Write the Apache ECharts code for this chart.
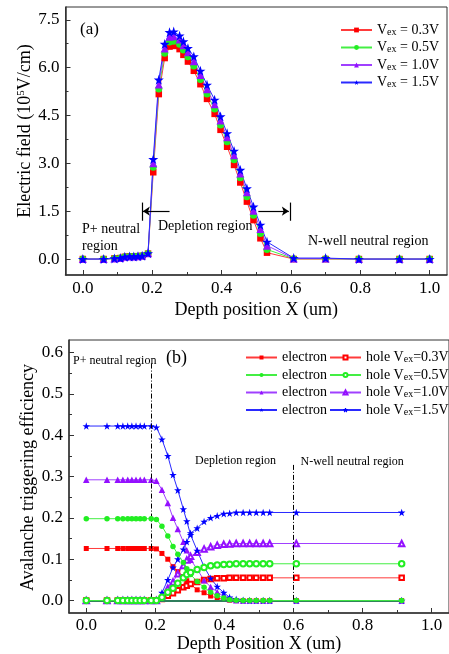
<!DOCTYPE html>
<html><head><meta charset="utf-8">
<script src="https://cdn.jsdelivr.net/npm/echarts@6/dist/echarts.min.js"></script>
<style>html,body{margin:0;padding:0;background:#fff}#c{width:449px;height:654px}</style>
</head><body><div id="c"></div>
<script>
// ---------- (a) Electric field ----------
const xA = [0, 0.06, 0.091, 0.108, 0.121, 0.135, 0.147, 0.159, 0.171, 0.188, 0.203, 0.219, 0.236, 0.25, 0.262, 0.279, 0.29, 0.303, 0.32, 0.339, 0.358, 0.38, 0.397, 0.416, 0.436, 0.454, 0.473, 0.492, 0.512, 0.531, 0.608, 0.70, 0.796, 0.913, 1.0];
const fieldV03 = [0, 0, 0.02, 0.03, 0.07, 0.08, 0.08, 0.09, 0.1, 0.17, 2.72, 5.17, 6.30, 6.66, 6.68, 6.58, 6.40, 6.19, 5.90, 5.48, 5.02, 4.55, 4.05, 3.52, 2.95, 2.40, 1.80, 1.22, 0.65, 0.20, 0, 0, 0, 0, 0];
const fieldV05 = [0, 0, 0.02, 0.03, 0.07, 0.08, 0.08, 0.09, 0.1, 0.17, 2.88, 5.33, 6.45, 6.80, 6.83, 6.73, 6.55, 6.34, 6.05, 5.63, 5.17, 4.70, 4.20, 3.68, 3.11, 2.55, 1.95, 1.37, 0.80, 0.30, 0.01, 0.01, 0, 0, 0];
const fieldV10 = [0, 0, 0.02, 0.03, 0.07, 0.08, 0.08, 0.09, 0.1, 0.18, 3.00, 5.47, 6.60, 6.97, 6.98, 6.88, 6.70, 6.48, 6.20, 5.77, 5.32, 4.85, 4.34, 3.82, 3.25, 2.68, 2.09, 1.51, 0.94, 0.42, 0.02, 0.02, 0, 0, 0];
const fieldV15 = [0, 0, 0.02, 0.03, 0.07, 0.08, 0.08, 0.09, 0.1, 0.18, 3.13, 5.62, 6.74, 7.11, 7.13, 7.00, 6.82, 6.61, 6.35, 5.90, 5.46, 4.99, 4.47, 3.94, 3.39, 2.79, 2.21, 1.64, 1.07, 0.54, 0.03, 0.03, 0, 0, 0];
const legendA = ['Vex = 0.3V', 'Vex = 0.5V', 'Vex = 1.0V', 'Vex = 1.5V'];

// ---------- (b) Avalanche triggering efficiency ----------
const xB = [0, 0.06, 0.091, 0.106, 0.12, 0.132, 0.144, 0.156, 0.168, 0.188, 0.203, 0.219, 0.236, 0.251, 0.265, 0.281, 0.291, 0.302, 0.321, 0.341, 0.36, 0.379, 0.398, 0.415, 0.434, 0.454, 0.473, 0.492, 0.512, 0.531, 0.608, 0.913];
const eleV03 = [0.126, 0.126, 0.126, 0.126, 0.126, 0.126, 0.126, 0.126, 0.126, 0.126, 0.125, 0.114, 0.100, 0.082, 0.070, 0.058, 0.048, 0.040, 0.026, 0.019, 0.011, 0.006, 0.003, 0.001, 0, 0, 0, 0, 0, 0, 0, 0];
const eleV05 = [0.198, 0.198, 0.198, 0.198, 0.198, 0.198, 0.198, 0.198, 0.198, 0.198, 0.196, 0.180, 0.156, 0.131, 0.112, 0.092, 0.077, 0.063, 0.046, 0.032, 0.020, 0.012, 0.006, 0.002, 0.001, 0, 0, 0, 0, 0, 0, 0];
const eleV10 = [0.292, 0.292, 0.292, 0.292, 0.292, 0.292, 0.292, 0.292, 0.292, 0.292, 0.290, 0.268, 0.236, 0.200, 0.173, 0.142, 0.122, 0.099, 0.076, 0.049, 0.033, 0.021, 0.010, 0.004, 0.001, 0, 0, 0, 0, 0, 0, 0];
const eleV15 = [0.422, 0.422, 0.422, 0.422, 0.422, 0.422, 0.422, 0.422, 0.422, 0.422, 0.419, 0.390, 0.350, 0.304, 0.267, 0.221, 0.192, 0.159, 0.121, 0.082, 0.054, 0.034, 0.019, 0.008, 0.003, 0.001, 0, 0, 0, 0, 0, 0];
const holeV03 = [0, 0, 0, 0, 0, 0, 0, 0, 0, 0, 0, 0.004, 0.012, 0.018, 0.025, 0.032, 0.036, 0.040, 0.045, 0.050, 0.052, 0.054, 0.054, 0.055, 0.055, 0.055, 0.055, 0.055, 0.055, 0.055, 0.055, 0.055];
const holeV05 = [0, 0, 0, 0, 0, 0, 0, 0, 0, 0, 0, 0.008, 0.020, 0.030, 0.042, 0.055, 0.063, 0.068, 0.075, 0.080, 0.084, 0.086, 0.087, 0.088, 0.089, 0.089, 0.089, 0.089, 0.089, 0.089, 0.089, 0.089];
const holeV10 = [0, 0, 0, 0, 0, 0, 0, 0, 0, 0, 0, 0.012, 0.030, 0.045, 0.065, 0.085, 0.098, 0.107, 0.117, 0.125, 0.130, 0.134, 0.136, 0.137, 0.138, 0.138, 0.138, 0.138, 0.138, 0.138, 0.138, 0.138];
const holeV15 = [0, 0, 0, 0, 0, 0, 0, 0, 0, 0, 0, 0.019, 0.050, 0.080, 0.100, 0.124, 0.142, 0.163, 0.175, 0.191, 0.200, 0.205, 0.210, 0.211, 0.213, 0.213, 0.213, 0.213, 0.213, 0.213, 0.213, 0.213];
const vexLabels = ['0.3V', '0.5V', '1.0V', '1.5V'];

// ---------- ticks ----------
const xTickMajor = [0, 0.2, 0.4, 0.6, 0.8, 1.0];
const xTickMinor = [0.1, 0.3, 0.5, 0.7, 0.9];
const yTopMajor = [0, 1.5, 3.0, 4.5, 6.0, 7.5];
const yTopMinor = [0.75, 2.25, 3.75, 5.25, 6.75];
const yBotMajor = [0, 0.1, 0.2, 0.3, 0.4, 0.5, 0.6];
const yBotMinor = [0.05, 0.15, 0.25, 0.35, 0.45, 0.55];

const FONT = 'Liberation Serif';
const AX = '#333';
const zip = (xs, ys) => xs.map((x, i) => [x, ys[i]]);
const STAR = 'path://M50,2 L61.8,37.6 L99,37.6 L69,59.6 L80.4,95 L50,73 L19.6,95 L31,59.6 L1,37.6 L38.2,37.6 Z';

function majorAxis(dim, gi, min, max, ticks, margin) {
  return {
    type: 'value', gridIndex: gi, min: min, max: max,
    position: dim === 'x' ? 'bottom' : 'left',
    splitLine: { show: false },
    axisLine: { show: true, onZero: false, lineStyle: { color: AX, width: 1.5 } },
    axisTick: { show: true, inside: true, length: 5, customValues: ticks, lineStyle: { color: AX, width: 1 } },
    axisLabel: { customValues: ticks, formatter: v => Number(v).toFixed(1), fontFamily: FONT, fontSize: 17, color: '#000', margin: margin }
  };
}
function minorAxis(dim, gi, min, max, ticks) {
  return {
    type: 'value', gridIndex: gi, min: min, max: max,
    position: dim === 'x' ? 'bottom' : 'left',
    splitLine: { show: false },
    axisLine: { show: false, onZero: false },
    axisTick: { show: true, inside: true, length: 3, customValues: ticks, lineStyle: { color: AX, width: 1 } },
    axisLabel: { show: false }
  };
}

const colors = {
  red: { m: '#ff0000', l: '#ff3b3b' },
  green: { m: '#22ee22', l: '#44ee44' },
  purple: { m: '#9410ff', l: '#a040ff' },
  blue: { m: '#0000ff', l: '#2a2aff' }
};
const order = ['red', 'green', 'purple', 'blue'];

function lineSeries(name, xi, yi, data, c, symbol, size, z, extra) {
  return Object.assign({
    name: name, type: 'line', xAxisIndex: xi, yAxisIndex: yi, data: data,
    symbol: symbol, symbolSize: size, z: z || 2,
    lineStyle: { color: c.l, width: 1 },
    itemStyle: { color: c.m, borderColor: c.m, borderWidth: symbol.indexOf('empty') === 0 ? 1 : 0 },
    emphasis: { disabled: true }, animation: false
  }, extra || {});
}

const series = [];
// (a)
const fieldData = [fieldV03, fieldV05, fieldV10, fieldV15];
const symA = ['rect', 'circle', 'triangle', STAR];
const sizeA = [6.5, 7, 8, 10];
fieldData.forEach((d, i) => {
  const extra = {};
  if (i === 0) {
    extra.markLine = {
      silent: true, symbol: ['none', 'none'], symbolSize: 7, z: 5, animation: false,
      label: { show: false },
      lineStyle: { color: '#000', width: 1.2, type: 'solid' },
      data: [
        [{ coord: [0.170, 1.77] }, { coord: [0.170, 1.20] }],
        [{ coord: [0.250, 1.50] }, { coord: [0.173, 1.50], symbol: 'arrow' }],
        [{ coord: [0.506, 1.50] }, { coord: [0.594, 1.50], symbol: 'arrow' }],
        [{ coord: [0.597, 1.77] }, { coord: [0.597, 1.20] }]
      ]
    };
  }
  series.push(lineSeries(legendA[i], 0, 0, zip(xA, d), colors[order[i]], symA[i], sizeA[i], 2, extra));
});
// (b)
const eleData = [eleV03, eleV05, eleV10, eleV15];
const holeData = [holeV03, holeV05, holeV10, holeV15];
const symE = ['rect', 'circle', 'triangle', STAR];
const symH = ['emptyRect', 'emptyCircle', 'emptyTriangle', STAR];
const sizeE = [5, 5.5, 6.5, 7.5];
const sizeH = [4.5, 5.5, 5.5, 7.5];
const eNames = vexLabels.map(v => 'e' + v);
const hNames = vexLabels.map(v => 'h' + v);
for (let i = 0; i < 4; i++) {
  const z = order[i] === 'green' ? 4 : 2;
  const extra = {};
  if (i === 1) {
    extra.markLine = {
      silent: true, symbol: ['none', 'none'], z: 4, animation: false,
      label: { show: false },
      lineStyle: { color: '#000', width: 1, type: [5, 2, 1, 2] },
      data: [
        [{ coord: [0.188, 0.573] }, { coord: [0.188, -0.004] }],
        [{ coord: [0.600, 0.328] }, { coord: [0.600, -0.004] }],
        [{ coord: [0, 0], lineStyle: { color: '#2f7d5c', width: 2.2, type: 'solid' } }, { coord: [0.913, 0] }]
      ]
    };
  }
  series.push(lineSeries(eNames[i], 2, 2, zip(xB, eleData[i]), colors[order[i]], symE[i], sizeE[i], z, extra));
  series.push(lineSeries(hNames[i], 2, 2, zip(xB, holeData[i]), colors[order[i]], symH[i], sizeH[i], z));
}

const legendText = { fontFamily: FONT, fontSize: 14, color: '#000', lineHeight: 14,
  rich: { s: { fontFamily: FONT, fontSize: 10, color: '#000', verticalAlign: 'bottom', lineHeight: 14 } } };

const option = {
  backgroundColor: '#fff',
  animation: false,
  grid: [
    { left: 65.5, top: 7, width: 381.5, height: 268, show: true, borderColor: AX, borderWidth: 1 },
    { left: 69, top: 340, width: 383, height: 273, show: true, borderColor: AX, borderWidth: 1 }
  ],
  xAxis: [
    Object.assign(majorAxis('x', 0, -0.05, 1.05, xTickMajor, 5), { name: 'Depth position X (um)', nameLocation: 'middle', nameGap: 26, nameTextStyle: { fontFamily: FONT, fontSize: 18, color: '#000' } }),
    minorAxis('x', 0, -0.05, 1.05, xTickMinor),
    Object.assign(majorAxis('x', 1, -0.05, 1.05, xTickMajor, 4), { name: 'Depth Position X (um)', nameLocation: 'middle', nameGap: 22, nameTextStyle: { fontFamily: FONT, fontSize: 18, color: '#000' } }),
    minorAxis('x', 1, -0.05, 1.05, xTickMinor)
  ],
  yAxis: [
    majorAxis('y', 0, -0.5, 7.9, yTopMajor, 6),
    minorAxis('y', 0, -0.5, 7.9, yTopMinor),
    majorAxis('y', 1, -0.03, 0.63, yBotMajor, 6),
    minorAxis('y', 1, -0.03, 0.63, yBotMinor)
  ],
  legend: [
    { orient: 'vertical', left: 335, top: 18, itemWidth: 31, itemHeight: 6, itemGap: 3.5, data: legendA,
      formatter: n => 'V{s|ex}' + n.slice(3), textStyle: legendText, selectedMode: false },
    { orient: 'vertical', left: 240, top: 345.5, itemWidth: 31, itemHeight: 5, itemGap: 3.5, data: eNames,
      formatter: () => 'electron', textStyle: legendText, selectedMode: false },
    { orient: 'vertical', left: 324, top: 345.5, itemWidth: 31, itemHeight: 5, itemGap: 3.5, data: hNames,
      itemStyle: { borderWidth: 1 },
      formatter: n => 'hole V{s|ex}=' + n.slice(1), textStyle: legendText, selectedMode: false }
  ],
  graphic: [
    { type: 'text', x: 25, y: 131, rotation: Math.PI / 2, style: { text: 'Electric field (10{sup|5}V/cm)', font: '18px "Liberation Serif"', fill: '#000', align: 'center', verticalAlign: 'middle',
      rich: { sup: { font: '11px "Liberation Serif"', fill: '#000', verticalAlign: 'top', lineHeight: 18 } } } },
    { type: 'text', x: 28.5, y: 477.5, rotation: Math.PI / 2, style: { text: 'Avalanche triggering efficiency', font: '18px "Liberation Serif"', fill: '#000', align: 'center', verticalAlign: 'middle' } },
    { type: 'text', x: 80, y: 30, style: { text: '(a)', font: '17px "Liberation Serif"', fill: '#000', verticalAlign: 'middle' } },
    { type: 'text', x: 82, y: 229, style: { text: 'P+ neutral', font: '14px "Liberation Serif"', fill: '#000', verticalAlign: 'middle' } },
    { type: 'text', x: 82, y: 246, style: { text: 'region', font: '14px "Liberation Serif"', fill: '#000', verticalAlign: 'middle' } },
    { type: 'text', x: 158, y: 226.5, style: { text: 'Depletion region', font: '14px "Liberation Serif"', fill: '#000', verticalAlign: 'middle' } },
    { type: 'text', x: 308, y: 241.5, style: { text: 'N-well neutral region', font: '14px "Liberation Serif"', fill: '#000', verticalAlign: 'middle' } },
    { type: 'text', x: 73, y: 360.5, style: { text: 'P+ neutral region', font: '12px "Liberation Serif"', fill: '#000', verticalAlign: 'middle' } },
    { type: 'text', x: 166, y: 358, style: { text: '(b)', font: '18px "Liberation Serif"', fill: '#000', verticalAlign: 'middle' } },
    { type: 'text', x: 195, y: 461, style: { text: 'Depletion region', font: '12px "Liberation Serif"', fill: '#000', verticalAlign: 'middle' } },
    { type: 'text', x: 300.5, y: 462, style: { text: 'N-well neutral region', font: '12px "Liberation Serif"', fill: '#000', verticalAlign: 'middle' } }
  ],
  series: series
};

const chart = echarts.init(document.getElementById('c'), null, { renderer: 'canvas' });
chart.setOption(option);
</script>
</body></html>
